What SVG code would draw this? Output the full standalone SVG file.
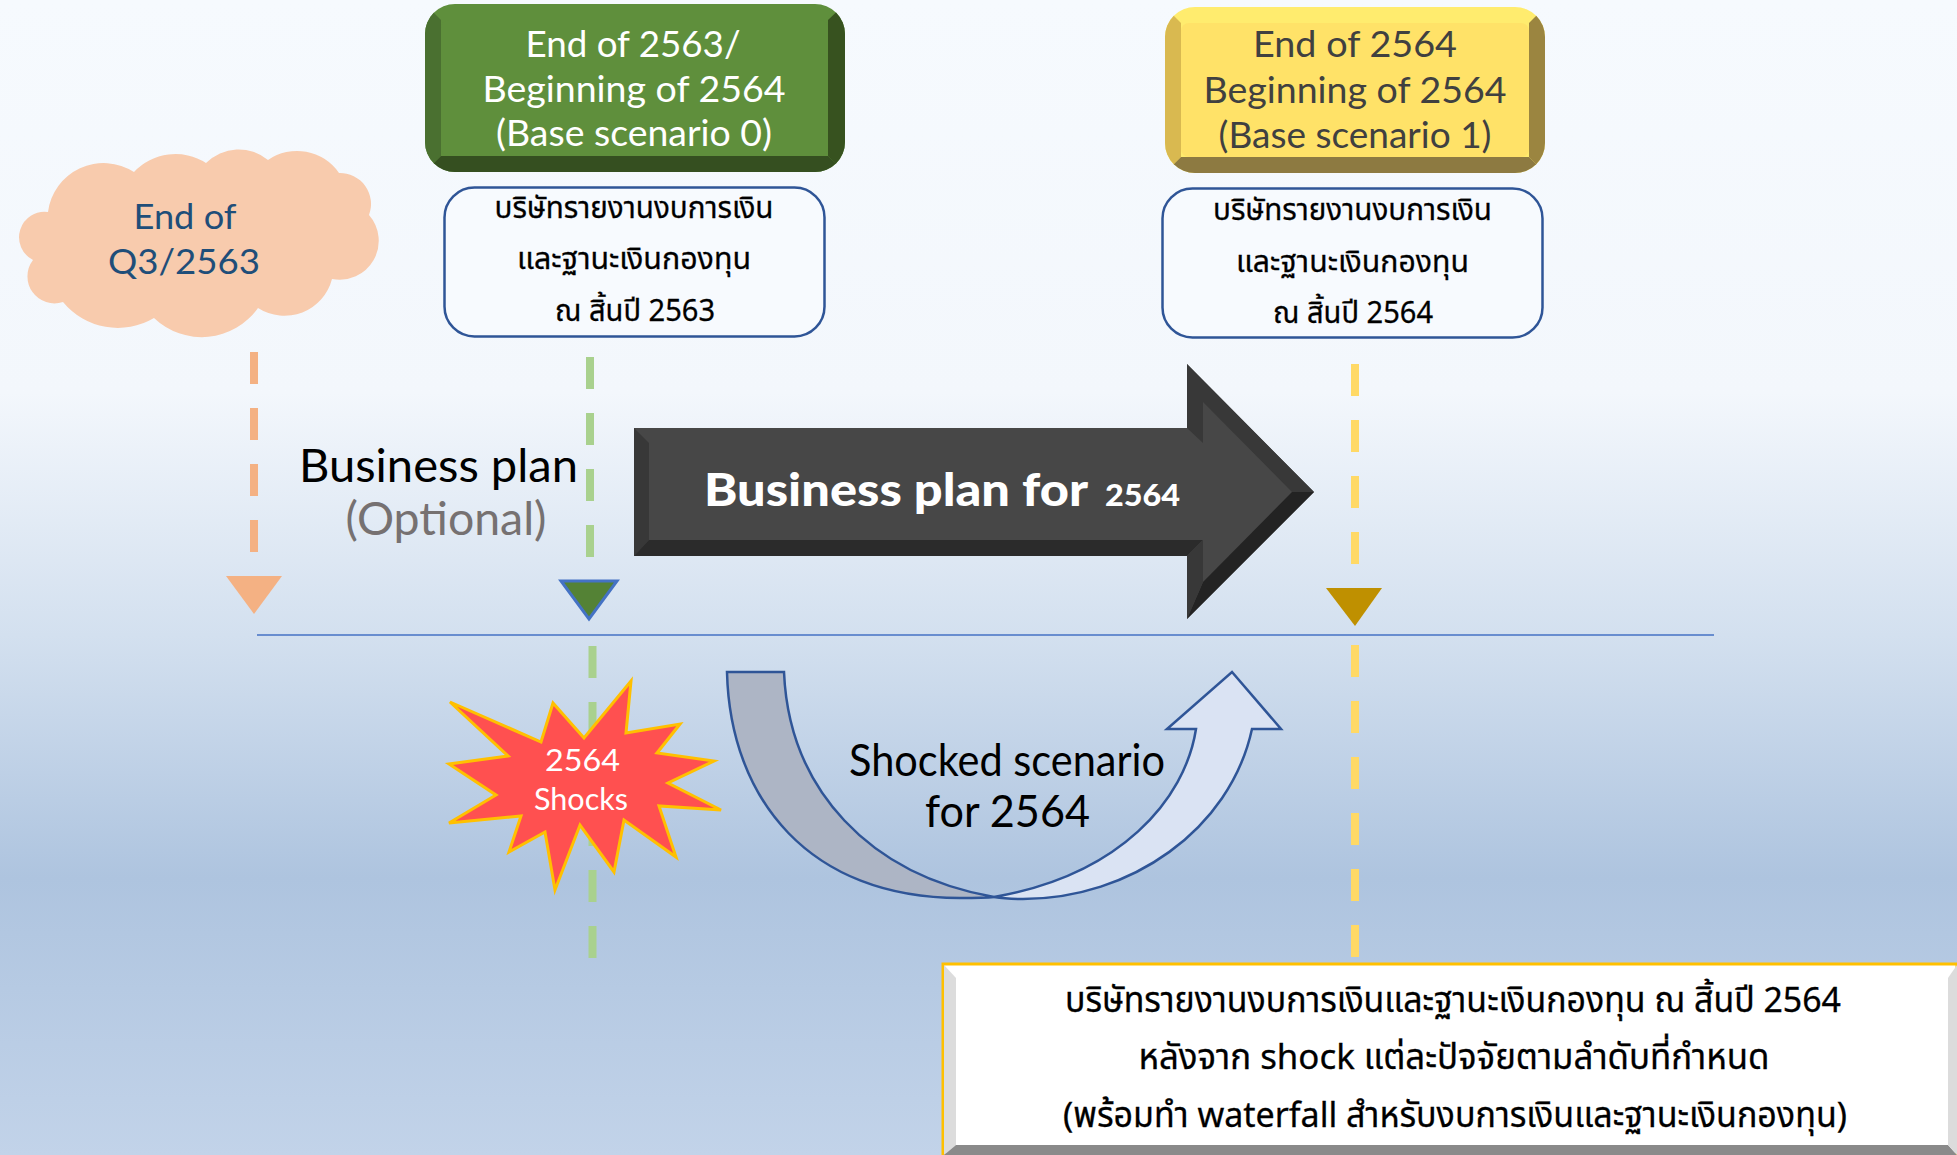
<svg xmlns="http://www.w3.org/2000/svg" width="1957" height="1155" viewBox="0 0 1957 1155">
<style>
text{font-family:Lato,"Noto Sans","Noto Sans Thai",sans-serif;text-anchor:middle}
.th{font-family:"Noto Sans","Noto Sans Thai","Noto Sans CJK SC",sans-serif;fill:#000;stroke:#000;stroke-width:.3}
.dash{fill:none;stroke-width:8;stroke-dasharray:32 24}
.note{fill:#f7fafe;stroke:#2f5597;stroke-width:2.5}
.curve{stroke:#2f5597;stroke-width:2.5;stroke-linejoin:miter}
</style>
<defs>
<linearGradient id="bg" x1="0" y1="0" x2="0" y2="1">
<stop offset="0" stop-color="#f6fafe"/><stop offset=".34" stop-color="#f3f7fc"/><stop offset=".55" stop-color="#d3e0ef"/><stop offset=".76" stop-color="#aec4df"/><stop offset="1" stop-color="#c2d3e9"/>
</linearGradient>
<clipPath id="cg"><rect x="425" y="4" width="420" height="168" rx="30"/></clipPath>
<clipPath id="cy"><rect x="1165" y="7" width="380" height="166" rx="30"/></clipPath>
</defs>
<rect width="1957" height="1155" fill="url(#bg)"/>
<g id="connectors">
<line x1="254" y1="352" x2="254" y2="552" class="dash" stroke="#f4b183"/>
<line x1="590" y1="357" x2="590" y2="557" class="dash" stroke="#a9d18e"/>
<line x1="592.500" y1="646" x2="592.500" y2="958" class="dash" stroke="#a9d18e"/>
<line x1="1355" y1="364" x2="1355" y2="564" class="dash" stroke="#ffd966"/>
<line x1="1355" y1="645" x2="1355" y2="957" class="dash" stroke="#ffd966"/>
<line x1="257" y1="635" x2="1714" y2="635" stroke="#4472c4" stroke-width="1.500"/>
</g>
<g id="marker-q3"><polygon points="226,576 282,576 254,614" fill="#f4b183"/></g>
<g id="marker-2563"><polygon points="561,581 617,581 589,619" fill="#548235" stroke="#4472c4" stroke-width="3"/></g>
<g id="marker-2564"><polygon points="1326,588 1382,588 1355,626" fill="#bf9000"/></g>
<g id="cloud-q3">
<path d="M48 212A56 56 0 0 1 134 172A57 57 0 0 1 206 163A46 46 0 0 1 268 160A51 51 0 0 1 339 173A31 31 0 0 1 369 215A39 39 0 0 1 332 279A49 49 0 0 1 258 308A69 69 0 0 1 154 318A71 71 0 0 1 63 302A27 27 0 0 1 33 260A25.500 25.500 0 0 1 48 212Z" fill="#f8cbad"/>
<text x="185" y="229" font-size="35" fill="#1f4e79" textLength="103" lengthAdjust="spacingAndGlyphs">End of</text>
<text x="184" y="274" font-size="35" fill="#1f4e79" textLength="152" lengthAdjust="spacingAndGlyphs">Q3/2563</text>
</g>
<g id="box-green">
<g clip-path="url(#cg)">
<rect x="425" y="4" width="420" height="168" fill="#5f8f3c"/>
<polygon points="425,4 441,20 441,156 425,172" fill="#4a7030"/>
<polygon points="845,4 828,20 828,156 845,172" fill="#37521f"/>
<polygon points="425,172 441,156 828,156 845,172" fill="#354f20"/>
</g>
<rect x="441" y="20" width="387" height="136" rx="8" fill="#5f8f3c"/>
<text x="633" y="57" font-size="36" fill="#fff" textLength="215" lengthAdjust="spacingAndGlyphs">End of 2563/</text>
<text x="634" y="102" font-size="36" fill="#fff" textLength="303" lengthAdjust="spacingAndGlyphs">Beginning of 2564</text>
<text x="634" y="146" font-size="36" fill="#fff" textLength="276" lengthAdjust="spacingAndGlyphs">(Base scenario 0)</text>
</g>
<g id="box-yellow">
<g clip-path="url(#cy)">
<rect x="1165" y="7" width="380" height="166" fill="#ffec6e"/>
<polygon points="1165,7 1181,23 1181,157 1165,173" fill="#d9b950"/>
<polygon points="1545,7 1529,23 1529,157 1545,173" fill="#9b8540"/>
<polygon points="1165,173 1181,157 1529,157 1545,173" fill="#8d7a41"/>
</g>
<rect x="1181" y="23" width="348" height="134" rx="8" fill="#ffe268"/>
<text x="1355" y="57" font-size="36" fill="#404040" textLength="204" lengthAdjust="spacingAndGlyphs">End of 2564</text>
<text x="1355" y="103" font-size="36" fill="#404040" textLength="303" lengthAdjust="spacingAndGlyphs">Beginning of 2564</text>
<text x="1355" y="148" font-size="36" fill="#404040" textLength="273" lengthAdjust="spacingAndGlyphs">(Base scenario 1)</text>
</g>
<g id="note-2563">
<rect x="444.500" y="187.500" width="380" height="149" rx="30" class="note"/>
<text class="th" x="634" y="218" font-size="31" textLength="279" lengthAdjust="spacingAndGlyphs">บริษัทรายงานงบการเงิน</text>
<text class="th" x="634" y="269" font-size="31" textLength="234" lengthAdjust="spacingAndGlyphs">และฐานะเงินกองทุน</text>
<text class="th" x="635" y="321" font-size="31" textLength="160" lengthAdjust="spacingAndGlyphs">ณ สิ้นปี 2563</text>
</g>
<g id="note-2564">
<rect x="1162.500" y="188.500" width="380" height="149" rx="30" class="note"/>
<text class="th" x="1352.500" y="220" font-size="31" textLength="279" lengthAdjust="spacingAndGlyphs">บริษัทรายงานงบการเงิน</text>
<text class="th" x="1352.500" y="272" font-size="31" textLength="233" lengthAdjust="spacingAndGlyphs">และฐานะเงินกองทุน</text>
<text class="th" x="1353" y="323" font-size="31" textLength="160" lengthAdjust="spacingAndGlyphs">ณ สิ้นปี 2564</text>
</g>
<g id="label-optional">
<text x="438.500" y="482" font-size="46" fill="#000" textLength="279" lengthAdjust="spacingAndGlyphs">Business plan</text>
<text x="446" y="535" font-size="46" fill="#767171" textLength="201" lengthAdjust="spacingAndGlyphs">(Optional)</text>
</g>
<g id="arrow-business-plan">
<polygon points="634,428 1187,428 1187,364 1314,492 1187,619 1187,556 634,556" fill="#474747"/>
<polygon points="634,428 649,443 649,540 634,556" fill="#383838"/>
<polygon points="634,556 649,540 1203,540 1187,556" fill="#2b2b2b"/>
<polygon points="1187,428 1203,443 1203,402 1292,492 1314,492 1187,364" fill="#383838"/>
<polygon points="1187,619 1203,582 1292,492 1314,492" fill="#232323"/>
<polygon points="1187,556 1203,540 1203,582 1187,619" fill="#383838"/>
<text x="896" y="506" font-size="45" font-weight="900" fill="#fff" textLength="384" lengthAdjust="spacingAndGlyphs">Business plan for</text>
<text x="1142.500" y="506" font-size="30" font-weight="900" fill="#fff" textLength="75" lengthAdjust="spacingAndGlyphs">2564</text>
</g>
<g id="shock-star">
<polygon points="450,702 541,742 553,703 584,738 631,681 626,733 680,724 657,753 714,761 668,783 721,810 659,806 676,857 624,820 614,872 580,825 555,890 545,832 509,852 521,816 449,823 496,795 449,764 508,756" fill="#ff5050" stroke="#ffc000" stroke-width="3"/>
<text x="582.500" y="771" font-size="31" fill="#fff" textLength="75" lengthAdjust="spacingAndGlyphs">2564</text>
<text x="581" y="810" font-size="31" fill="#fff" textLength="94" lengthAdjust="spacingAndGlyphs">Shocks</text>
</g>
<g id="shocked-curve">
<path class="curve" d="M994 897C1120 875 1185 800 1196 729L1167 729L1232 672L1281 729L1252 729C1230 830 1130 899 1023 899C1010 899 1000 898 994 897Z" fill="#dae3f3"/>
<path class="curve" d="M727 672L784 672C789 790 870 875 994 897C985 898 975 898 960 898C810 898 730 800 727 672Z" fill="#adb5c5"/>
<text x="1007" y="776" font-size="44" fill="#000" textLength="316" lengthAdjust="spacingAndGlyphs">Shocked scenario</text>
<text x="1007.500" y="827" font-size="44" fill="#000" textLength="165" lengthAdjust="spacingAndGlyphs">for 2564</text>
</g>
<g id="result-box">
<rect x="943" y="964" width="1014" height="191" fill="#fff" stroke="#ffc000" stroke-width="3"/>
<polygon points="944,965 956,978 956,1145 944,1155" fill="#dcdcdc"/>
<polygon points="944,1155 956,1145 1948,1145 1957,1155" fill="#8a8a8a"/>
<polygon points="1957,965 1948,978 1948,1145 1957,1155" fill="#dcdcdc"/>
<text class="th" x="1453" y="1012" font-size="35" textLength="776" lengthAdjust="spacingAndGlyphs">บริษัทรายงานงบการเงินและฐานะเงินกองทุน ณ สิ้นปี 2564</text>
<text class="th" x="1454" y="1069" font-size="35" textLength="631" lengthAdjust="spacingAndGlyphs">หลังจาก shock แต่ละปัจจัยตามลำดับที่กำหนด</text>
<text class="th" x="1455" y="1127" font-size="35" textLength="784" lengthAdjust="spacingAndGlyphs">(พร้อมทำ waterfall สำหรับงบการเงินและฐานะเงินกองทุน)</text>
</g>
</svg>
